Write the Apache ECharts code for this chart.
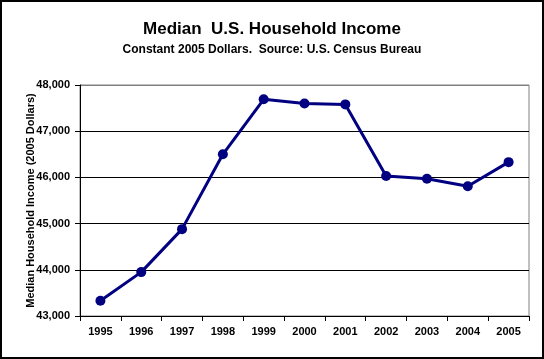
<!DOCTYPE html>
<html><head><meta charset="utf-8">
<script src="https://cdn.jsdelivr.net/npm/echarts@6/dist/echarts.min.js"></script>
<style>html,body{margin:0;padding:0;background:#fff}#c{width:544px;height:359px}</style>
</head><body><div id="c"></div>
<script>
const years = ['1995','1996','1997','1998','1999','2000','2001','2002','2003','2004','2005'];
const income = [43330, 43950, 44880, 46500, 47690, 47600, 47580, 46030, 45970, 45810, 46330];
const yMin = 43000, yMax = 48000, yStep = 1000;

const chart = echarts.init(document.getElementById('c'), null, {renderer: 'canvas'});
const F = 'Liberation Sans, Arial, sans-serif';
chart.setOption({
  animation: false,
  backgroundColor: '#fff',
  title: [
    {text: 'Median  U.S. Household Income', left: 'center', top: 16,
     textStyle: {fontFamily: F, fontSize: 17, fontWeight: 'bold', color: '#000'}},
    {text: 'Constant 2005 Dollars.  Source: U.S. Census Bureau', left: 'center', top: 39,
     textStyle: {fontFamily: F, fontSize: 12, fontWeight: 'bold', color: '#000'}}
  ],
  graphic: [{type: 'rect', shape: {x: 1, y: 1, width: 542, height: 357},
    style: {fill: 'none', stroke: '#000', lineWidth: 2}, z: 100}],
  grid: {left: 80, right: 15, top: 85, bottom: 43, show: true, borderColor: '#808080', borderWidth: 1},
  xAxis: {
    type: 'category', data: years, boundaryGap: true,
    axisLine: {lineStyle: {color: '#000', width: 1}},
    axisTick: {show: true, length: 5, inside: false, lineStyle: {color: '#000'}},
    axisLabel: {fontFamily: F, fontSize: 11, fontWeight: 'bold', color: '#000', margin: 10},
    splitLine: {show: false}
  },
  yAxis: {
    type: 'value', min: yMin, max: yMax, interval: yStep,
    name: 'Median Household Income (2005 Dollars)', nameLocation: 'middle', nameGap: 44,
    nameMoveOverlap: false,
    nameTextStyle: {fontFamily: F, fontSize: 11, fontWeight: 'bold', color: '#000'},
    axisLine: {show: true, lineStyle: {color: '#000', width: 1}},
    axisTick: {show: true, length: 5, lineStyle: {color: '#000'}},
    axisLabel: {fontFamily: F, fontSize: 11, fontWeight: 'bold', color: '#000', margin: 10,
      formatter: v => v.toLocaleString('en-US')},
    splitLine: {show: true, lineStyle: {color: ['#000','#000','#000','#000','#000','#808080'], width: 1}}
  },
  series: [{
    type: 'line', data: income, symbol: 'circle', symbolSize: 10,
    lineStyle: {color: '#000080', width: 3},
    itemStyle: {color: '#000080'}
  }]
});
</script></body></html>
